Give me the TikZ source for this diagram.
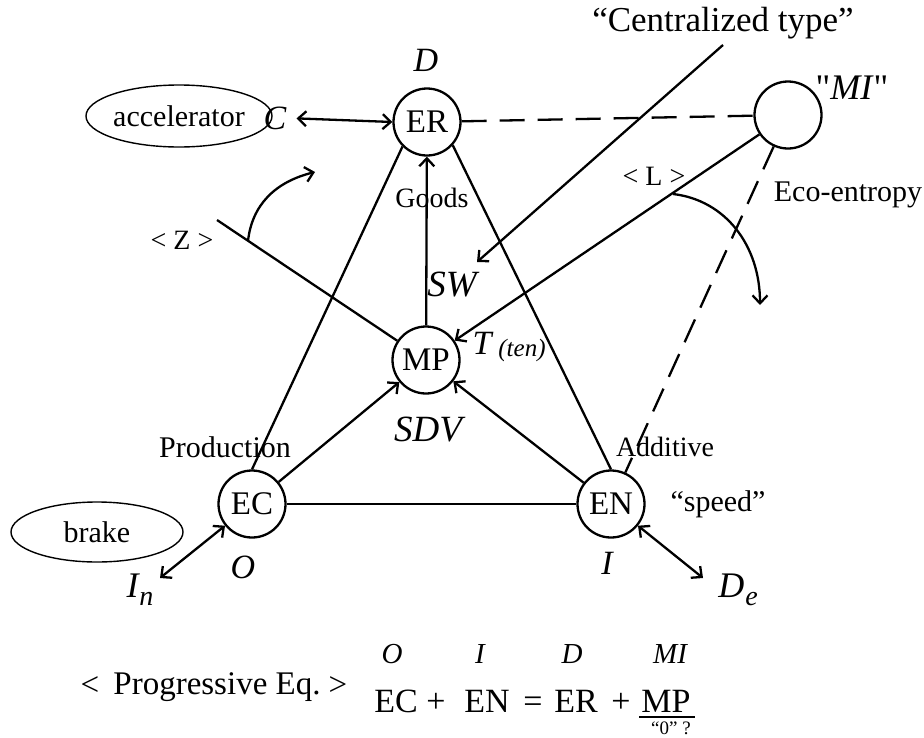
\documentclass[tikz,border=0pt]{standalone}
\usepackage{fontspec}
\setmainfont{Liberation Serif}
\usetikzlibrary{arrows.meta,shapes.geometric}
\tikzset{
  fs/.style={font=\fontsize{#1}{#1}\selectfont},
  fsi/.style={font=\fontsize{#1}{#1}\selectfont\itshape},
  circ/.style={circle, draw, line width=2.3pt, minimum size=67pt, inner sep=0pt, fs=33},
  oval/.style={ellipse, draw, line width=1.4pt, inner sep=0pt, fs=30},
  lab/.style={inner sep=0pt, fs=30},
  small/.style={inner sep=0pt, fs=28},
  ital/.style={inner sep=0pt, fsi=34},
  conn/.style={line width=2.3pt},
  tipb/.tip={Straight Barb[length=8pt,width=15pt,line width=2.3pt]},
  arr/.style={conn, -tipb},
  darr/.style={conn, tipb-tipb},
  dashline/.style={conn, dash pattern=on 25pt off 13pt},
  eq/.style={inner sep=0pt, anchor=base, fs=34},
  eqtop/.style={inner sep=0pt, fsi=29}
}
\begin{document}
\begin{tikzpicture}[x=1pt,y=-1pt]
\useasboundingbox (0,0) rectangle (924,737);
% circles
\node[circ] (ER) at (427,122) {ER};
\node[circ] (MP) at (426,360) {MP};
\node[circ] (EC) at (252,504) {EC};
\node[circ] (EN) at (611,504) {EN};
\node[circ] (MI) at (788,115) {};
% ovals
\node[oval, minimum width=152pt, minimum height=62pt] (acc) at (179,116) {accelerator};
\node[oval, minimum width=172pt, minimum height=60pt] (brk) at (97,532) {brake};
% labels
\node[ital] (Dl) at (426,60) {D};
\node[ital] (Cl) at (275,118) {C};
\node[inner sep=0pt, fs=35] (cent) at (723,23) {“Centralized type”};
\node[inner sep=0pt, fs=36] (MIl) at (852,88) {\textquotedbl\textit{MI}\textquotedbl};
\node[lab] (eco) at (848,195) {Eco-entropy};
\node[small] (Ll) at (654,176) {< L >};
\node[small] (Zl) at (182,240) {< Z >};
\node[inner sep=0pt, fs=28] (goods) at (432,198) {Goods};
\node[inner sep=0pt, fsi=37] (SW) at (452,285) {SW};
\node[ital] (Tl) at (482,343) {T};
\node[inner sep=0pt, fsi=25] (ten) at (522,350) {(ten)};
\node[inner sep=0pt, fsi=37] (SDV) at (428,430) {SDV};
\node[lab] (prod) at (225,447) {Production};
\node[inner sep=0pt, fs=28] (add) at (665,447) {Additive};
\node[lab] (speed) at (718,504) {“speed”};
\node[ital] (Ol) at (243,567) {O};
\node[ital] (Il) at (607,563) {I};
\node[inner sep=0pt, fsi=36] (In) at (140,590) {I\kern1pt\raisebox{-8pt}{\fontsize{28}{28}\selectfont n}};
\node[inner sep=0pt, fsi=36] (De) at (738,590) {D\kern1pt\raisebox{-8pt}{\fontsize{28}{28}\selectfont e}};
% coordinates
\coordinate (inEnd) at (160,578);
\coordinate (deEnd) at (703,578);
\coordinate (cA) at (723,45);
\coordinate (cB) at (477,262);
\coordinate (zA) at (217,220);
\coordinate (zS) at (248,241);
\coordinate (zE) at (315,172);
\coordinate (lS) at (673,194);
\coordinate (lE) at (760,305);
% connectors
\draw[conn] (EC.north) -- (ER.225);
\draw[conn] (EN.north) -- (ER.-42);
\draw[conn] (EC) -- (EN);
\draw[arr] (EC) -- (MP);
\draw[arr] (EN) -- (MP);
\draw[arr] (MP) -- (ER);
\draw[arr] (MI) -- (MP);
\draw[darr, shorten <=10pt] (Cl.east) -- (ER.west);
\draw[dashline] (ER) -- (MI);
\draw[dashline] (MI) -- (EN);
\draw[arr] (cA) -- (cB);
\draw[conn] (zA) -- (MP);
\draw[arr] (zS) .. controls (252,205) and (275,182) .. (zE);
\draw[arr] (lS) .. controls (725,200) and (760,245) .. (lE);
\draw[darr] (EC) -- (inEnd);
\draw[darr] (EN) -- (deEnd);
% equation
\node[inner sep=0pt, fs=33] (lt) at (90,686) {<};
\node[inner sep=0pt, fs=33] (prog) at (217,687) {Progressive Eq.};
\node[inner sep=0pt, fs=33] (gt) at (338,686) {>};
\node[eq] (e1) at (396,712) {EC};
\node[eq] (e2) at (436,712) {+};
\node[eq] (e3) at (487,712) {EN};
\node[eq] (e4) at (533,712) {=};
\node[eq] (e5) at (576,712) {ER};
\node[eq] (e6) at (621,712) {+};
\node[eq] (e7) at (666,712) {MP};
\node[eqtop] (t1) at (392,654) {O};
\node[eqtop] (t2) at (480,654) {I};
\node[eqtop] (t3) at (572,654) {D};
\node[eqtop] (t4) at (670,654) {MI};
\draw[line width=1.6pt] (639,717) -- (695,717);
\node[inner sep=0pt, fs=19] (zero) at (671,728) {“0” ?};
\end{tikzpicture}
\end{document}
